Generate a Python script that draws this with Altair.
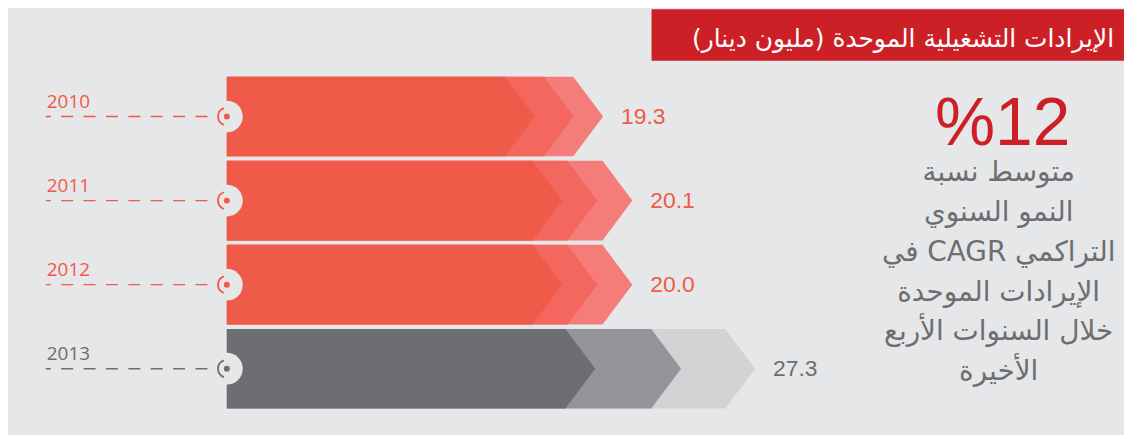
import altair as alt
import pandas as pd

# ---------------- data ----------------
years = ["2010", "2011", "2012", "2013"]
revenue = [19.3, 20.1, 20.0, 27.3]
value_labels = ["19.3", "20.1", "20.0", "27.3"]
# lengths of the three stacked chevrons of each bar, in the same units
front_len = [15.8, 17.2, 17.2, 18.9]
middle_len = [17.8, 19.0, 19.0, 23.3]
back_len = [19.3, 20.8, 20.8, 27.1]
is_latest = [False, False, False, True]

title_text = "الإيرادات التشغيلية الموحدة (مليون دينار)"
kpi_text = "%12"
kpi_lines = [
    "متوسط نسبة",
    "النمو السنوي",
    "في CAGR التراكمي",
    "الإيرادات الموحدة",
    "خلال السنوات الأربع",
    "الأخيرة",
]

# ---------------- styling ----------------
BG = "#e6e7e8"
RED_TITLE = "#cc1f26"
RED = ["#f05a48", "#f3675f", "#f47d7a"]
GREY = ["#6d6e71", "#939598", "#d1d3d4"]
W, H = 1122, 427
PX_PER_UNIT = 19.6
X0 = 220.0          # pixel position of value 0
ROW0, ROW_STEP = 108.0, 84.5
HALF = 40.0 / ROW_STEP     # half bar height in row units
TIP = 30.0 / PX_PER_UNIT   # chevron depth in value units

xs = alt.Scale(domain=[-X0 / PX_PER_UNIT, (W - X0) / PX_PER_UNIT], nice=False, zero=False)
ya = -ROW0 / ROW_STEP
ys = alt.Scale(domain=[ya, ya + H / ROW_STEP], reverse=True, nice=False, zero=False)

rows = pd.DataFrame({
    "row": list(range(len(years))),
    "year": years,
    "value": revenue,
    "label": value_labels,
    "back": back_len,
    "c": [GREY[0] if g else RED[0] for g in is_latest],
})


def chevrons(lengths, level):
    recs = []
    for i, L in enumerate(lengths):
        col = (GREY if is_latest[i] else RED)[level]
        for yy, xx in [(i - HALF, L - TIP), (i, L), (i + HALF, L - TIP)]:
            recs.append({"row": i, "y": yy, "x": xx, "x0": 0.0, "c": col})
    return pd.DataFrame(recs)


def chevron_layer(lengths, level):
    return alt.Chart(chevrons(lengths, level)).mark_area(
        orient="horizontal", opacity=1, interpolate="linear"
    ).encode(
        y=alt.Y("y:Q", scale=ys, axis=None),
        x=alt.X("x:Q", scale=xs, axis=None),
        x2="x0:Q",
        color=alt.Color("c:N", scale=None),
        detail="row:N",
    )


bars = alt.layer(
    chevron_layer(back_len, 2),
    chevron_layer(middle_len, 1),
    chevron_layer(front_len, 0),
)

base = alt.Chart(rows)
yenc = alt.Y("row:Q", scale=ys, axis=None)

halo = base.mark_point(shape="circle", filled=True, size=1024, color=BG, opacity=1).encode(
    x=alt.X("zero:Q", scale=xs, axis=None), y=yenc
).transform_calculate(zero="0")

dashes = base.mark_rule(strokeDash=[12, 10.5], strokeWidth=1.4, strokeDashOffset=7).encode(
    x=alt.value(38), x2=alt.value(211), y=yenc, color=alt.Color("c:N", scale=None)
)

ring = base.mark_point(
    shape="M -0.33,-0.94 A 1,1 0 0,0 -0.33,0.94", filled=False, size=320, strokeWidth=1.8, opacity=1
).encode(
    x=alt.X("zero:Q", scale=xs, axis=None), y=yenc, color=alt.Color("c:N", scale=None)
).transform_calculate(zero="0")

dot = base.mark_circle(size=36, opacity=1).encode(
    x=alt.X("zero:Q", scale=xs, axis=None), y=yenc, color=alt.Color("c:N", scale=None)
).transform_calculate(zero="0")

year_txt = base.mark_text(font="Open Sans", fontSize=19, align="left", baseline="alphabetic", dy=-9).encode(
    x=alt.value(39), y=yenc, text="year:N", color=alt.Color("c:N", scale=None)
)

val_txt = base.mark_text(font="Liberation Sans", fontSize=23, align="left", baseline="middle", dx=18).encode(
    x=alt.X("back:Q", scale=xs, axis=None), y=yenc, text="label:N", color=alt.Color("c:N", scale=None)
)

one = pd.DataFrame({"k": [0]})
title_bar = alt.Chart(one).mark_rect(color=RED_TITLE).encode(
    x=alt.value(647), x2=alt.value(W), y=alt.value(0), y2=alt.value(52)
)
title = alt.Chart(one).mark_text(
    text=title_text, font="DejaVu Sans", fontSize=25, color="white", align="right", baseline="alphabetic"
).encode(x=alt.value(1112), y=alt.value(38))

kpi = alt.Chart(one).mark_text(
    text=kpi_text, font="Liberation Sans", fontSize=68, color=RED_TITLE, align="center", baseline="alphabetic"
).encode(x=alt.value(1000), y=alt.value(137))

kpi_desc = alt.Chart(one).mark_text(
    text=kpi_lines, font="DejaVu Sans", fontSize=28, lineHeight=40, color=GREY[0],
    align="center", baseline="alphabetic"
).encode(x=alt.value(996), y=alt.value(173))

chart = alt.layer(
    bars, halo, dashes, ring, dot, year_txt, val_txt, title_bar, title, kpi, kpi_desc
).properties(
    width=W, height=H, background=BG, padding=0, autosize=alt.AutoSizeParams(type="none")
).configure_view(stroke=None)

chart.save("out.html", embed_options={"renderer": "svg", "actions": False})
